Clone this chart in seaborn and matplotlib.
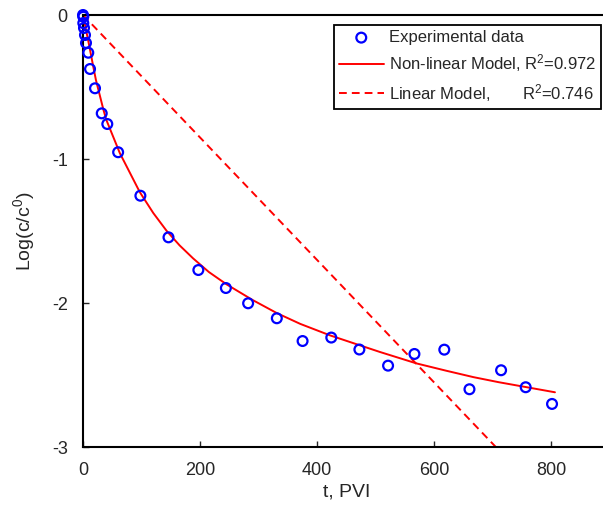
import matplotlib
matplotlib.use('Agg')
import matplotlib.pyplot as plt
import seaborn as sns

# experimental points
t_exp = [0, 0.5, 0.5, 1.7, 3.4, 5.1, 9, 12, 20.5, 32, 41.5, 60, 98, 146, 197,
         244, 282, 331, 375, 424, 472, 521, 566, 617, 660, 714, 756, 801]
logc_exp = [0, -0.012, -0.056, -0.09, -0.139, -0.194, -0.262, -0.375, -0.509,
            -0.683, -0.757, -0.953, -1.255, -1.544, -1.771, -1.896, -2.002,
            -2.106, -2.264, -2.24, -2.323, -2.435, -2.354, -2.324, -2.599,
            -2.467, -2.585, -2.701]

# non-linear model curve
t_nl = [0, 5, 10, 17.6, 22, 35, 40, 63, 97, 120, 143, 165, 188, 215, 245,
        290, 331, 371, 422, 470, 507, 570, 620, 667, 710, 758, 806]
logc_nl = [0, -0.10, -0.20, -0.36, -0.45, -0.66, -0.73, -0.96, -1.23, -1.375,
           -1.50, -1.60, -1.69, -1.785, -1.87, -1.98, -2.07, -2.145, -2.225,
           -2.29, -2.34, -2.42, -2.47, -2.515, -2.55, -2.585, -2.62]

# linear model
t_lin = [0, 705]
logc_lin = [0, -3]

sns.set_style('ticks')
plt.rcParams['font.family'] = ['Liberation Sans', 'DejaVu Sans']
plt.rcParams['mathtext.fontset'] = 'custom'
plt.rcParams['mathtext.rm'] = 'Liberation Sans'
plt.rcParams['mathtext.it'] = 'Liberation Sans:italic'
plt.rcParams['axes.unicode_minus'] = False

fig = plt.figure(figsize=(6.03, 5.08), dpi=100)
ax = fig.add_axes([83 / 603, 61 / 508, 527 / 603, 432 / 508])

sns.scatterplot(x=t_exp, y=logc_exp, ax=ax, marker='o', s=50,
                fc='none', ec='#0000ff', linewidth=1.6,
                label='Experimental data', zorder=3, clip_on=False)
sns.lineplot(x=t_nl, y=logc_nl, ax=ax, color='#ff0000', linewidth=1.4,
             label='Non-linear Model, R$^2$=0.972')
sns.lineplot(x=t_lin, y=logc_lin, ax=ax, color='#ff0000', linewidth=1.4,
             linestyle=(0, (4, 2.6)), label='Linear Model,       R$^2$=0.746')

ax.set_xlim(0, 900)
ax.set_ylim(-3, 0)
ax.set_xticks([0, 200, 400, 600, 800])
ax.set_yticks([-3, -2, -1, 0])
ax.tick_params(direction='in', length=4, width=1, labelsize=13)
ax.tick_params(axis='x', pad=11)
ax.tick_params(axis='y', pad=11)
for s in ax.spines.values():
    s.set_linewidth(1.5)
    s.set_color('black')

ax.set_xlabel('t, PVI', fontsize=14, labelpad=3)
ax.set_ylabel('Log(c/c$^0$)', fontsize=14, labelpad=11)

leg = ax.legend(loc='upper right', bbox_to_anchor=(601 / 603, 483 / 508),
                bbox_transform=fig.transFigure, borderaxespad=0,
                fontsize=12, frameon=True, fancybox=False, framealpha=1,
                edgecolor='black', handlelength=2.7, handletextpad=0.3,
                labelspacing=0.45, borderpad=0.3, scatterpoints=1)
leg.get_frame().set_linewidth(1.3)

fig.savefig('out.png', dpi=100)
